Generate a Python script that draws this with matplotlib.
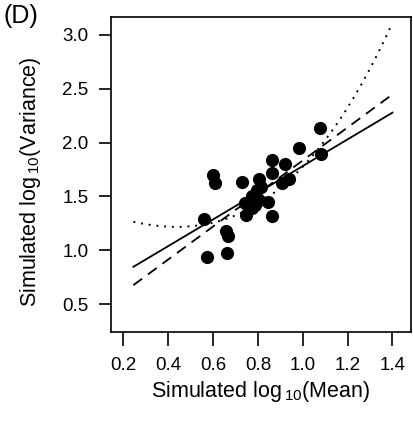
import numpy as np
import matplotlib
matplotlib.use("Agg")
import matplotlib.pyplot as plt

plt.rcParams['font.family'] = ['Liberation Sans', 'DejaVu Sans']
plt.rcParams['mathtext.fontset'] = 'custom'
plt.rcParams['mathtext.rm'] = 'Liberation Sans'
plt.rcParams['mathtext.it'] = 'Liberation Sans'

# simulated log10(mean) / log10(variance)
log_mean = [1.075, 0.984, 1.081, 0.861, 0.920, 0.864, 0.602, 0.608, 0.730,
            0.804, 0.907, 0.937, 0.815, 0.796, 0.773, 0.743, 0.803, 0.773,
            0.847, 0.746, 0.862, 0.562, 0.657, 0.667, 0.574, 0.662, 0.760,
            0.785]
log_var = [2.133, 1.947, 1.894, 1.838, 1.798, 1.715, 1.699, 1.622, 1.637,
           1.659, 1.622, 1.662, 1.590, 1.560, 1.500, 1.436, 1.467, 1.389,
           1.451, 1.327, 1.318, 1.290, 1.178, 1.132, 0.938, 0.975, 1.450,
           1.420]

# fitted curves (polynomial coefficients, highest power first)
fit_solid = [1.239, 0.543]
fit_dashed = [1.533, 0.301]
fit_dotted = [0.689, 0.482, -0.822, 1.427]

xticks = [0.2, 0.4, 0.6, 0.8, 1.0, 1.2, 1.4]
yticks = [0.5, 1.0, 1.5, 2.0, 2.5, 3.0]

fig = plt.figure(figsize=(4.14, 4.21), dpi=100)
ax = fig.add_axes([0.268, 0.211, 0.725, 0.749])

xs = np.linspace(0.245, 1.4, 200)
ax.plot(xs, np.polyval(fit_solid, xs), color='black', lw=1.3)
ax.plot(xs, np.polyval(fit_dashed, xs), color='black', lw=1.3,
        linestyle=(0, (6, 4)))
xd = np.linspace(0.245, 1.39, 200)
ax.plot(xd, np.polyval(fit_dotted, xd), color='black', lw=1.4,
        linestyle=(0, (1, 3)))
ax.scatter(log_mean, log_var, s=90, color='black', zorder=3, linewidths=0)

ax.set_xlim(0.145, 1.483)
ax.set_ylim(0.24, 3.167)
ax.set_xticks(xticks)
ax.set_xticklabels(['%.1f' % v for v in xticks])
ax.set_yticks(yticks)
ax.set_yticklabels(['%.1f' % v for v in yticks])
ax.tick_params(direction='out', width=1.2, labelsize=13.5)
ax.tick_params(axis='x', length=10, pad=8)
ax.tick_params(axis='y', length=9, pad=7)
for sp in ax.spines.values():
    sp.set_linewidth(1.2)

ax.set_xlabel(r'Simulated log$\,_{\rm 10}$(Mean)', fontsize=15.5)
ax.set_ylabel(r'Simulated log$\,_{\rm 10}$(Variance)', fontsize=15.5)
ax.xaxis.set_label_coords(0.5, -0.15)
ax.yaxis.set_label_coords(-0.225, 0.476)
fig.text(0.008, 0.99, '(D)', fontsize=18, va='top', ha='left')

fig.savefig('out.png', dpi=100)
